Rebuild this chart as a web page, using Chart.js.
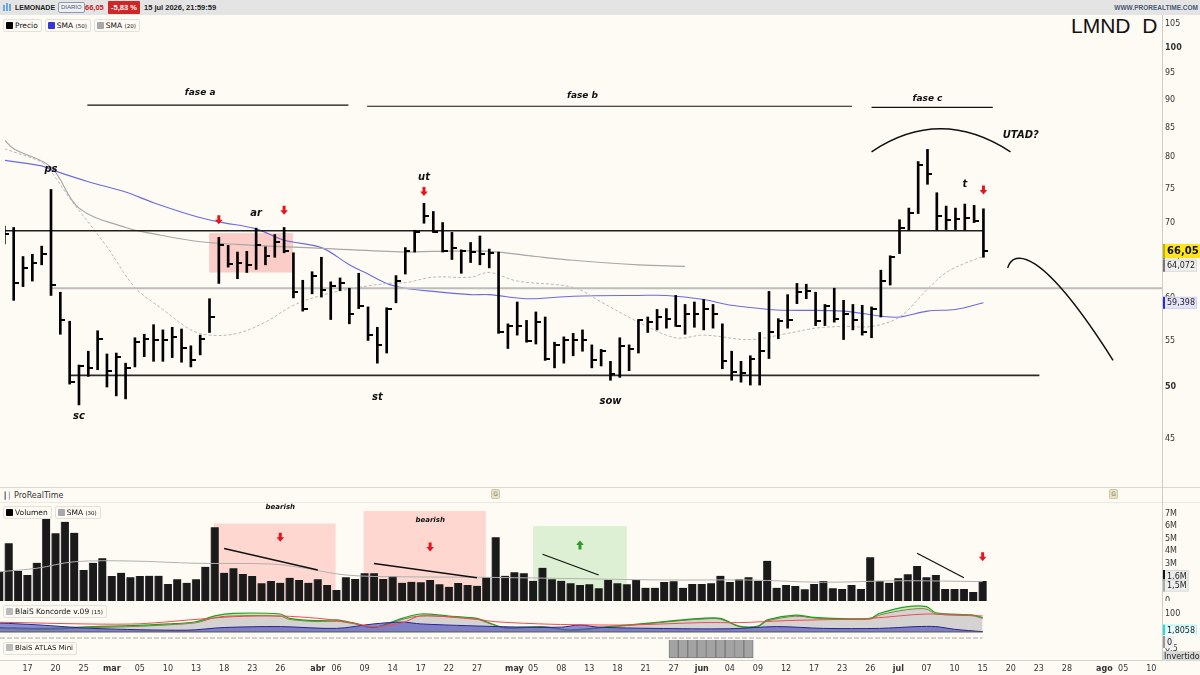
<!DOCTYPE html>
<html><head><meta charset="utf-8">
<script src="https://cdn.jsdelivr.net/npm/chart.js@4/dist/chart.umd.min.js"></script>
<style>
*{box-sizing:border-box}
html,body{margin:0;padding:0;width:1200px;height:675px;overflow:hidden;background:#fefbf5;font-family:"DejaVu Sans",sans-serif;color:#222}
canvas{position:absolute;left:0}
.a{position:absolute;white-space:nowrap}
#hdr{position:absolute;left:0;top:0;width:1200px;height:15px;background:#e4e4e4;font-family:"Liberation Sans",sans-serif;font-size:7px;font-weight:bold;line-height:15px;color:#222}
#hdr span{position:absolute;top:0;white-space:nowrap}
.row{position:absolute;display:flex;gap:3px}
.pill{height:13px;border:1px solid #e4e0da;border-radius:2px;background:#fdf9f3;font-size:7.5px;line-height:11px;padding:0 3px 0 2px;white-space:nowrap;color:#111}
.sq{display:inline-block;width:7px;height:7px;margin-right:2px;vertical-align:-1px;border-radius:1px}
.sm{font-size:5.5px}
.hl{position:absolute;height:1px;background:#dcd8d2}
</style></head><body>
<div id="hdr">
  <span style="left:3px;top:5px;width:2px;height:6px;background:#6aa7e0"></span>
  <span style="left:6px;top:3px;width:2px;height:8px;background:#6aa7e0"></span>
  <span style="left:9px;top:4px;width:2px;height:7px;background:#6aa7e0"></span>
  <span style="left:15px">LEMONADE</span>
  <span style="left:58px;top:2px;height:11px;line-height:9px;border:1px solid #8e9aab;border-radius:2px;font-size:6px;font-weight:normal;padding:0 2px;color:#4a5a70;background:#eef0f3">DIARIO</span>
  <span style="left:85px;color:#c62020;font-size:7.5px">66,05</span>
  <span style="left:108px;top:1px;height:13px;line-height:13px;background:#cf2626;color:#fff;padding:0 3px;border-radius:1px;font-size:7.5px">-5,83 %</span>
  <span style="left:144px;font-size:7.5px">15 jul 2026, 21:59:59</span>
  <span style="left:auto;right:2px;font-size:6.5px;color:#4a5a78">WWW.PROREALTIME.COM</span>
</div>
<div class="row" style="left:3px;top:19px">
  <div class="pill"><span class="sq" style="background:#000"></span>Precio</div>
  <div class="pill"><span class="sq" style="background:#3535d8"></span>SMA <span class="sm">(50)</span></div>
  <div class="pill"><span class="sq" style="background:#a8a8a8"></span>SMA <span class="sm">(20)</span></div>
</div>
<div class="a" style="left:1071px;top:14px;font-family:'Liberation Sans',sans-serif;font-size:21px;color:#111;white-space:pre">LMND  D</div>

<div class="hl" style="left:0;top:487px;width:1200px"></div>
<div class="a" style="left:3px;top:491px;font-size:8px;color:#333"><span style="color:#555;font-size:7px">&#x2503;&#x2502;</span> ProRealTime</div>
<div class="a" style="left:491px;top:489px;width:9px;height:10px;background:#e8e2c4;border:1px solid #cfc7a0;border-radius:2px;font-size:6px;line-height:8px;text-align:center;color:#776">G</div>
<div class="a" style="left:1109px;top:489px;width:9px;height:10px;background:#e8e2c4;border:1px solid #cfc7a0;border-radius:2px;font-size:6px;line-height:8px;text-align:center;color:#776">G</div>
<div class="hl" style="left:0;top:502px;width:1200px;background:#ece8e2"></div>

<div class="a" style="left:1162px;top:15px;width:1px;height:646px;background:#cfcbc5"></div>
<div class="hl" style="left:0;top:660px;width:1200px;background:#d6d2cc"></div>

<script>
// ===================== DATA =====================
// trading days (MM-DD, 2026)
const dates = ['02-11','02-12','02-13','02-17','02-18','02-19','02-20','02-23','02-24','02-25','02-26','02-27',
'03-02','03-03','03-04','03-05','03-06','03-09','03-10','03-11','03-12','03-13','03-16','03-17','03-18','03-19','03-20','03-23','03-24','03-25','03-26','03-27','03-30','03-31',
'04-01','04-02','04-06','04-07','04-08','04-09','04-10','04-13','04-14','04-15','04-16','04-17','04-20','04-21','04-22','04-23','04-24','04-27','04-28','04-29','04-30',
'05-01','05-04','05-05','05-06','05-07','05-08','05-11','05-12','05-13','05-14','05-15','05-18','05-19','05-20','05-21','05-22','05-26','05-27','05-28','05-29',
'06-01','06-02','06-03','06-04','06-05','06-08','06-09','06-10','06-11','06-12','06-15','06-16','06-17','06-18','06-22','06-23','06-24','06-25','06-26','06-29','06-30',
'07-01','07-02','07-06','07-07','07-08','07-09','07-10','07-13','07-14','07-15','07-16','07-17','07-20','07-21','07-22','07-23','07-24','07-27','07-28','07-29','07-30','07-31',
'08-03','08-04','08-05','08-06','08-07','08-10','08-11','08-12'];

const tickDates  = ['02-17','02-20','02-25','03-02','03-05','03-10','03-13','03-18','03-23','03-26','04-01','04-06','04-09','04-14','04-17','04-22','04-27','05-01','05-05','05-08','05-13','05-18','05-21','05-27','06-01','06-04','06-09','06-12','06-17','06-23','06-26','07-01','07-07','07-10','07-15','07-20','07-23','07-28','08-03','08-05','08-10'];
const tickLabels = ['17','20','25','mar','05','10','13','18','23','26','abr','06','09','14','17','22','27','may','05','08','13','18','21','27','jun','04','09','12','17','23','26','jul','07','10','15','20','23','28','ago','05','10'];

const high  = [69.5,69.3,65.3,65.6,66.7,74.9,60.7,57.2,52.3,53.8,56.1,53.5,53.6,52.5,55.3,55.7,56.8,56.2,56.5,56.3,54.4,55.6,59.9,67.9,66.8,65.9,66.0,69.2,66.6,68.3,69.3,65.8,62.2,63.3,65.2,62.0,62.5,61.2,63.1,58.9,56.5,58.8,62.8,66.5,68.9,72.8,71.6,70.0,68.6,66.2,67.2,68.1,66.3,65.9,56.9,59.5,57.3,58.3,57.7,54.8,55.4,55.8,56.2,54.5,54.0,52.7,55.3,54.5,57.4,57.7,58.6,58.7,60.3,59.2,59.5,59.8,59.2,56.9,53.8,52.7,53.3,55.9,60.8,57.5,60.4,61.8,61.7,60.7,59.2,61.2,59.7,59.2,59.1,58.9,63.5,65.4,70.4,72.1,79.3,81.3,74.4,72.4,72.1,72.7,72.5,72.0];
const low   = [67.0,59.7,61.4,62.1,64.2,60.3,55.7,50.3,48.2,51.1,51.8,50.0,49.1,48.8,52.1,53.2,52.7,52.7,53.1,52.6,52.1,53.4,55.9,61.8,63.9,62.4,63.2,63.6,64.2,65.2,65.8,60.0,58.4,60.5,60.1,57.4,60.9,56.9,58.7,55.0,52.5,53.6,59.4,63.0,65.9,69.9,68.6,65.9,64.9,63.1,64.5,64.2,63.8,55.8,54.1,55.6,54.8,54.6,52.8,52.0,52.5,53.3,53.8,52.0,52.2,50.7,51.0,51.7,53.6,55.9,56.2,56.4,56.6,55.7,56.5,56.2,56.4,51.9,50.7,50.5,50.2,50.2,53.0,55.2,56.4,59.3,59.9,56.7,56.7,57.1,55.1,56.2,55.6,55.3,57.7,61.6,65.7,68.9,71.3,75.7,68.9,69.0,69.0,68.9,70.0,65.2];
const close = [68.4,61.9,63.8,64.5,65.7,61.6,57.3,50.5,52.2,52.0,55.2,51.7,53.2,52.0,54.8,55.2,55.0,55.0,55.4,54.1,52.8,55.2,57.7,66.8,64.3,64.5,64.2,66.8,65.4,67.2,66.0,60.7,58.7,62.7,61.0,61.5,61.9,58.1,59.0,55.6,54.5,58.7,62.1,66.0,68.7,71.0,68.7,66.1,66.4,66.1,65.9,65.6,65.8,55.9,56.7,56.7,54.9,57.1,52.9,54.5,55.0,55.1,55.1,52.8,53.8,51.4,54.4,54.0,57.3,57.1,57.7,57.5,56.7,58.1,58.1,58.7,58.1,52.7,51.6,51.5,52.9,53.8,55.9,57.2,57.4,60.7,60.8,57.2,59.0,57.5,58.0,57.3,55.9,58.7,62.1,65.2,69.2,71.4,78.7,77.3,71.0,70.4,70.5,70.7,70.2,66.05];
// volume in millions
const volume = [2.34,4.62,2.42,2.08,3.06,6.8,5.42,6.34,5.46,2.48,3.06,3.42,2.0,2.26,1.9,2.0,2.02,2.02,1.36,1.74,1.46,1.74,2.74,5.9,2.26,2.62,2.16,2.0,1.42,1.6,1.46,1.86,1.68,1.46,1.74,1.28,0.88,1.9,1.76,2.22,2.22,1.76,2.0,1.46,1.54,1.5,1.68,1.34,1.14,1.44,1.28,1.22,1.9,5.1,2.02,2.3,2.22,1.62,2.66,1.74,1.62,1.42,1.28,1.34,1.02,1.68,1.42,1.34,1.68,1.06,1.06,1.52,1.58,1.06,1.36,1.36,1.42,2.02,1.52,1.74,1.9,1.6,3.22,1.06,1.28,1.2,0.94,1.36,1.6,1.02,0.96,1.28,0.96,3.5,1.6,1.46,1.82,2.14,2.8,1.9,2.08,0.96,0.96,0.96,0.72,1.6];

// moving averages (bar index -> value)
const sma50At = [0,4,5,9,13,16,20,23,27,30,34,37,39,41,43,46,50,52,56,61,68,71,75,78,82,84,90,94,96,99,102,105];
const sma50   = [79.5,78.6,78.0,76.1,74.5,72.9,71.1,70.1,69.1,67.5,66.5,64.2,63.0,61.8,61.2,60.8,60.4,60.4,59.9,60.2,60.3,60.3,59.8,59.1,58.6,58.5,58.4,57.8,57.7,58.4,58.6,59.4];
const smaLongAt = [0,1,5,8,13,16,21,27,34,43,46,52,57,61,68,73];
const smaLong   = [82.9,81.4,78.4,72.1,69.3,68.4,67.3,66.8,66.4,65.9,66.0,66.0,65.3,64.8,64.2,64.0];
const sma20At = [0,4,5,7,11,14,17,20,22,25,28,31,34,37,41,43,46,50,52,55,61,64,68,72,75,80,84,87,90,93,96,99,101,103,105];
const sma20   = [81.4,79.2,77.7,73.6,66.6,61.3,58.6,56.2,55.6,55.8,57.1,59.1,60.3,61.1,61.8,61.9,62.6,62.6,63.2,62.1,61.3,59.5,57.1,55.3,55.6,55.1,55.8,56.4,56.6,56.6,57.7,61.1,63.2,64.4,65.3];
const volSmaAt = [0,4,8,14,21,29,32,37,43,51,59,71,80,88,96,105];
const volSma   = [2.34,2.62,3.14,3.2,3.02,2.96,2.7,2.08,1.94,1.9,1.82,1.68,1.68,1.5,1.62,1.55];

// Koncorde (rough reading)
const konAt    = [0,5,10,14,18,21,23,25,30,31,34,36,38,40,43,45,48,51,52,54,58,61,65,69,72,75,77,79,81,82,85,87,89,93,94,97,99,100,104,105];
const konGreen = [25,20,30,35,45,57,90,104,100,76,63,67,48,26,76,100,89,76,57,24,30,11,30,48,63,76,76,33,33,67,94,81,76,76,104,141,141,107,94,80];
const konGray  = [20,15,25,30,40,52,80,90,88,70,58,60,45,24,70,90,85,72,54,22,27,10,27,45,60,72,72,30,30,62,88,78,72,72,95,125,128,100,90,76];
const konBlueAt = [0,4,10,20,24,30,36,40,43,45,50,55,60,62,64,70,78,83,88,94,98,100,102,105];
const konBlue   = [50,40,20,10,25,30,20,45,55,45,35,28,27,39,27,20,18,30,20,20,30,30,15,1.8];
const konRedAt = [0,14,21,25,30,34,37,40,43,45,51,53,59,67,75,79,84,93,99,105];
const konRed   = [54,44,70,85,89,76,57,30,50,89,70,57,43,39,52,52,63,76,100,89];

// ATLAS Mini active days
const atlasDates = ['05-27','05-28','05-29','06-01','06-02','06-03','06-04','06-05','06-08'];

// levels drawn on the price panel
const resistance = 68.85, support = 51.2, midLevel = 61.2;
const priceTicks = [45,50,55,60,65,70,75,80,85,90,95,100,105];
const volTicks = [0,1,2,3,4,5,6,7];

// ===================== LAYOUT CONSTANTS =====================
const X_MIN = 0.067, X_MAX = 124.15, AXIS_W = 38;
const P_MIN = 41.17, P_MAX = 105.72;
const FONT = '"DejaVu Sans", sans-serif';
Chart.defaults.font.family = FONT;

const idx = d => dates.indexOf(d);
const pts = (at, vals) => at.map((x, k) => ({x, y: vals[k]}));
const lastBar = close.length - 1;

function mk(top, h) {
  const cv = document.createElement('canvas');
  cv.width = 1200; cv.height = h; cv.style.top = top + 'px';
  document.body.appendChild(cv); return cv;
}
function yFit(s) { s.width = AXIS_W; s.paddingTop = 0; s.paddingBottom = 0; }
function baseOpts() {
  return {responsive:false, animation:false, events:[], layout:{padding:0},
    plugins:{legend:{display:false}, tooltip:{enabled:false}}};
}
const noGrid = {display:false, drawTicks:false};
const xHidden = () => ({type:'linear', min:X_MIN, max:X_MAX, offset:false, display:false});
function P(c, i, v) { return [c.scales.x.getPixelForValue(i), c.scales.y.getPixelForValue(v)]; }

function valueBox(ctx, x, y, text, bg, marker, opt = {}) {
  const size = opt.size || 8;
  ctx.save();
  ctx.font = (opt.bold ? 'bold ' : '') + size + 'px ' + FONT;
  const w = ctx.measureText(text).width + 6;
  const h = size + 4;
  ctx.fillStyle = bg; ctx.fillRect(x, y - h / 2, w, h);
  if (opt.border) { ctx.strokeStyle = opt.border; ctx.lineWidth = 1; ctx.strokeRect(x + 0.5, y - h / 2 + 0.5, w - 1, h - 1); }
  ctx.fillStyle = marker; ctx.fillRect(x, y - h / 2, 2, h);
  ctx.fillStyle = opt.color || '#222'; ctx.textBaseline = 'middle'; ctx.textAlign = 'left';
  ctx.fillText(text, x + 4, y + 0.5);
  ctx.restore();
}
function arrow(ctx, x, y, color, up) {
  ctx.save(); ctx.fillStyle = color; ctx.beginPath();
  const s = up ? -1 : 1;
  ctx.rect(x - 1.5, y - s * 4.5, 3, s * 4.5);
  ctx.moveTo(x - 3.8, y); ctx.lineTo(x + 3.8, y); ctx.lineTo(x, y + s * 4.5); ctx.closePath();
  ctx.fill(); ctx.restore();
}
function label(ctx, x, y, t, font, color) {
  ctx.save(); ctx.font = font; ctx.fillStyle = color || '#111';
  ctx.textAlign = 'center'; ctx.textBaseline = 'middle'; ctx.fillText(t, x, y); ctx.restore();
}

// close tick marker (to the right of the bar)
const tickImg = document.createElement('canvas');
tickImg.width = 10; tickImg.height = 2;
(() => { const t = tickImg.getContext('2d'); t.fillStyle = '#000'; t.fillRect(5, 0, 5, 2); })();

// ===================== PRICE PANEL =====================
const waveText  = ['ps','sc','ar','st','ut','sow','t','UTAD?'];
const waveAt    = [5, 8, 27, 40, 45, 65, 103, 109];
const waveLevel = [78.0, 47.1, 71.3, 48.9, 76.7, 48.5, 75.7, 83.6];
const phaseNames = ['fase a','fase b','fase c'];
const phaseFrom = [8.9, 38.9, 93.0], phaseTo = [36.9, 90.9, 106.0], phaseLevel = [89.0, 88.8, 88.6];
const phaseTextAt = [21, 62, 99], phaseTextLevel = [91.3, 90.8, 90.2];
const priceArrowsAt = [23, 30, 45, 105], priceArrowsLevel = [70.4, 71.8, 74.6, 74.8];
const priceBox = {from: 21.96, to: 30.95, lo: 63.2, hi: 68.5};
const arcTop = [[93.0, 80.9], [100.4, 84.8], [107.9, 80.9]];
const arcDown = [[107.6, 63.8], [108.2, 66.2], [111.1, 66.8], [118.9, 52.8]];

const pricePlugin = {
  id: 'pricePlugin',
  beforeDatasetsDraw(c) {
    const ctx = c.ctx;
    const [x0, y0] = P(c, priceBox.from, priceBox.hi), [x1, y1] = P(c, priceBox.to, priceBox.lo);
    ctx.save(); ctx.fillStyle = 'rgba(248,160,155,0.5)'; ctx.fillRect(x0, y0, x1 - x0, y1 - y0); ctx.restore();
  },
  afterDatasetsDraw(c) {
    const ctx = c.ctx;
    waveText.forEach((t, k) => { const [x, y] = P(c, waveAt[k], waveLevel[k]); label(ctx, x, y, t, 'italic bold 10px ' + FONT); });
    phaseNames.forEach((t, k) => { const [x, y] = P(c, phaseTextAt[k], phaseTextLevel[k]); label(ctx, x, y, t, 'italic bold 9px ' + FONT); });
    priceArrowsAt.forEach((a, k) => { const [x, y] = P(c, a, priceArrowsLevel[k]); arrow(ctx, x, y, '#e8141c', false); });
    ctx.save(); ctx.strokeStyle = '#111'; ctx.lineWidth = 1.5;
    const a0 = P(c, ...arcTop[0]), ap = P(c, ...arcTop[1]), a2 = P(c, ...arcTop[2]);
    ctx.beginPath(); ctx.moveTo(a0[0], a0[1]);
    ctx.quadraticCurveTo(2 * ap[0] - (a0[0] + a2[0]) / 2, 2 * ap[1] - (a0[1] + a2[1]) / 2, a2[0], a2[1]); ctx.stroke();
    const b = arcDown.map(p => P(c, ...p));
    ctx.beginPath(); ctx.moveTo(b[0][0], b[0][1]); ctx.bezierCurveTo(b[1][0], b[1][1], b[2][0], b[2][1], b[3][0], b[3][1]); ctx.stroke();
    ctx.restore();
  },
  afterDraw(c) {
    const ctx = c.ctx, y = c.scales.y, x = c.chartArea.right + 1;
    valueBox(ctx, x, y.getPixelForValue(65.388), '65,388', '#ececec', '#888');
    valueBox(ctx, x, y.getPixelForValue(64.072), '64,072', '#efefef', '#777', {border: '#dcdcdc'});
    valueBox(ctx, x, y.getPixelForValue(59.398), '59,398', '#e4e4fa', '#2a2ae0', {border: '#d0d0f0'});
    valueBox(ctx, x, y.getPixelForValue(close[lastBar]), '66,05', '#ffe61a', '#c9ad00', {bold: true, size: 10, color: '#111'});
  }
};

new Chart(mk(16, 471), {
  type: 'bar',
  data: {datasets: [
    {type:'line', data: pts(smaLongAt, smaLong), borderColor:'#a7a7a7', borderWidth:1.2, pointRadius:0, tension:0.35, order:6},
    {type:'line', data: pts(sma20At, sma20), borderColor:'#b9b9b9', borderWidth:1, borderDash:[3,2], pointRadius:0, tension:0.35, order:6},
    {type:'line', data: pts(sma50At, sma50), borderColor:'rgba(70,70,225,0.8)', borderWidth:1.1, pointRadius:0, tension:0.35, order:6},
    {type:'line', data: [{x:5, y:midLevel}, {x:X_MAX, y:midLevel}], borderColor:'#bdbdbd', borderWidth:2, pointRadius:0, order:5},
    {type:'line', data: [{x:X_MIN, y:resistance}, {x:lastBar, y:resistance}], borderColor:'#1e1e1e', borderWidth:1.5, pointRadius:0, order:4},
    {type:'line', data: [{x:7, y:support}, {x:111, y:support}], borderColor:'#2a2a2a', borderWidth:1.8, pointRadius:0, order:4},
    ...phaseNames.map((n, k) => ({type:'line', data: [{x:phaseFrom[k], y:phaseLevel[k]}, {x:phaseTo[k], y:phaseLevel[k]}], borderColor:'#111', borderWidth:1.2, pointRadius:0, order:4})),
    {type:'bar', data: high.map((h, i) => ({x:i, y:[low[i], h]})), backgroundColor:'#000', barThickness:2, order:2},
    {type:'line', data: close.map((v, i) => ({x:i, y:v})), showLine:false, pointStyle:tickImg, pointRadius:3, order:1}
  ]},
  options: Object.assign(baseOpts(), {
    scales: {
      x: xHidden(),
      y: {type:'logarithmic', position:'right', min:P_MIN, max:P_MAX,
        grid:noGrid, border:{display:false}, afterFit:yFit,
        afterBuildTicks(s) { s.ticks = priceTicks.map(v => ({value:v})); },
        ticks:{padding:3, color:'#333', callback: v => String(v),
          font: ctx => ({family:FONT, size:8, weight: (ctx.tick && (ctx.tick.value === 100 || ctx.tick.value === 50)) ? 'bold' : 'normal'})}}
    }
  }),
  plugins: [pricePlugin]
});

// ===================== VOLUME PANEL =====================
const volBoxes = [
  {from: 22.9, to: 35.9, top: 6.2, color: 'rgba(255,170,165,0.45)'},
  {from: 38.9, to: 51.96, top: 7.2, color: 'rgba(255,170,165,0.45)'},
  {from: 57.0, to: 67.0, top: 6.0, color: 'rgba(175,225,160,0.4)'}
];
const volTextAt = [30, 46], volTextLevel = [7.5, 6.5];
const volArrowsAt = [30, 46, 62, 105], volArrowsLevel = [5.1, 4.32, 4.48, 3.54], volArrowsUp = [false, false, true, false];
const volLines = [[24, 4.2, 34, 2.48], [40, 3.0, 51, 1.86], [58, 3.74, 64, 2.08], [98, 3.82, 103, 1.86]];

const volPlugin = {
  id: 'volPlugin',
  beforeDatasetsDraw(c) {
    const ctx = c.ctx; ctx.save();
    volBoxes.forEach(b => { const [x0, y0] = P(c, b.from, b.top), [x1] = P(c, b.to, 0); ctx.fillStyle = b.color; ctx.fillRect(x0, y0, x1 - x0, c.chartArea.bottom - y0); });
    ctx.restore();
  },
  afterDatasetsDraw(c) {
    const ctx = c.ctx;
    volTextAt.forEach((a, k) => { const [x, y] = P(c, a, volTextLevel[k]); label(ctx, x, y, 'bearish', 'italic bold 7px ' + FONT); });
    volArrowsAt.forEach((a, k) => { const [x, y] = P(c, a, volArrowsLevel[k]); arrow(ctx, x, y, volArrowsUp[k] ? '#2c9a2c' : '#e8141c', volArrowsUp[k]); });
  },
  afterDraw(c) {
    const ctx = c.ctx, y = c.scales.y, x = c.chartArea.right + 1;
    valueBox(ctx, x, y.getPixelForValue(1.6) - 5, '1,6M', '#ececec', '#111', {border:'#d8d8d8'});
    valueBox(ctx, x, y.getPixelForValue(volSma[volSma.length - 1]) + 4, '1,5M', '#eeeeee', '#aaa', {border:'#dcdcdc'});
  }
};

new Chart(mk(490, 111), {
  type: 'bar',
  data: {datasets: [
    ...volLines.map(l => ({type:'line', data:[{x:l[0], y:l[1]}, {x:l[2], y:l[3]}], borderColor:'#111', borderWidth:1.3, pointRadius:0, order:0})),
    {type:'line', data: pts(volSmaAt, volSma), borderColor:'#b0b0b0', borderWidth:1, pointRadius:0, tension:0.35, order:1},
    {type:'bar', data: volume.map((v, i) => ({x:i, y:v})), backgroundColor:'#1a1a1a', borderColor:'#4a4a4a', borderWidth:{left:1, right:0, top:0, bottom:0}, barThickness:8, order:2}
  ]},
  options: Object.assign(baseOpts(), {
    layout: {padding: {top: 13}},
    scales: {
      x: xHidden(),
      y: {type:'linear', position:'right', min:0, max:7.84, grid:noGrid, border:{display:false}, afterFit:yFit,
        afterBuildTicks(s) { s.ticks = volTicks.map(v => ({value:v})); },
        ticks:{padding:3, color:'#333', font:{size:8}, callback: v => v === 0 ? '0' : v + 'M'}}
    }
  }),
  plugins: [volPlugin]
});

// ===================== KONCORDE PANEL =====================
const konPlugin = {
  id: 'konPlugin',
  afterDraw(c) {
    valueBox(c.ctx, c.chartArea.right + 1, c.scales.y.getPixelForValue(konBlue[konBlue.length - 1]) - 1, '1,8058', '#e6fdfd', '#19e0e8', {border:'#aef0f0'});
  }
};
new Chart(mk(602, 33), {
  type: 'line',
  data: {datasets: [
    {data: pts(konAt, konGray), borderColor:'#8a5a40', borderWidth:1, backgroundColor:'rgba(185,185,185,0.6)', fill:'origin', pointRadius:0, tension:0.3, order:4},
    {data: pts(konAt, konGreen), borderColor:'#22a022', borderWidth:1.2, backgroundColor:'rgba(140,225,120,0.55)', fill:'-1', pointRadius:0, tension:0.3, order:3},
    {data: pts(konBlueAt, konBlue), borderColor:'#25258f', borderWidth:1, backgroundColor:'rgba(80,80,190,0.65)', fill:'origin', pointRadius:0, tension:0.3, order:2},
    {data: pts(konRedAt, konRed), borderColor:'#f24a4a', borderWidth:1, fill:false, pointRadius:0, tension:0.3, order:1},
    {data: [{x:X_MIN, y:0}, {x:lastBar, y:0}], borderColor:'#555', borderWidth:1, pointRadius:0, order:0}
  ]},
  options: Object.assign(baseOpts(), {
    scales: {
      x: xHidden(),
      y: {type:'linear', position:'right', min:-16.7, max:166.7, grid:noGrid, border:{display:false}, afterFit:yFit,
        afterBuildTicks(s) { s.ticks = [{value:100}]; },
        ticks:{padding:3, color:'#333', font:{size:8}}}
    }
  }),
  plugins: [konPlugin]
});

// ===================== ATLAS PANEL + DATE AXIS =====================
const atlasPlugin = {
  id: 'atlasPlugin',
  afterDraw(c) {
    const ctx = c.ctx, x = c.chartArea.right + 1;
    valueBox(ctx, x, c.scales.y.getPixelForValue(0) + 2, '0', '#eeeeee', '#999');
    ctx.save(); ctx.fillStyle = '#d9d9d9'; ctx.fillRect(x, 16, 37, 10);
    ctx.font = '8px ' + FONT; ctx.fillStyle = '#222'; ctx.textBaseline = 'middle'; ctx.fillText('Invertido', x + 1, 21.5); ctx.restore();
  }
};
const isMonth = t => isNaN(Number(t));
new Chart(mk(635, 40), {
  type: 'bar',
  data: {datasets: [
    {type:'line', data:[{x:X_MIN, y:-0.11}, {x:lastBar, y:-0.11}], borderColor:'#a8a8a8', borderWidth:1, borderDash:[5,2], pointRadius:0, order:0},
    {type:'bar', data: atlasDates.map(d => ({x: idx(d), y: 1})), backgroundColor:'#a3a3a3', borderColor:'#7d7d7d', borderWidth:1, barThickness:9.3, order:1}
  ]},
  options: Object.assign(baseOpts(), {
    scales: {
      x: {type:'linear', min:X_MIN, max:X_MAX, offset:false, grid:noGrid, border:{display:false},
        afterFit(s) { s.height = 15; },
        afterBuildTicks(s) { s.ticks = tickDates.map(d => ({value: idx(d)})); },
        ticks:{autoSkip:false, maxRotation:0, padding:4, color:'#333',
          callback: (v, k) => tickLabels[k],
          font: ctx => ({family:FONT, size:8, weight: isMonth(tickLabels[ctx.index]) ? 'bold' : 'normal'})}},
      y: {type:'linear', position:'right', reverse:true, min:-0.278, max:1.111, grid:noGrid, border:{display:false}, afterFit:yFit,
        afterBuildTicks(s) { s.ticks = [{value:0.5}]; },
        ticks:{padding:3, color:'#333', font:{size:8}, callback: v => String(v)}}
    }
  }),
  plugins: [atlasPlugin]
});
</script>

<div class="row" style="left:3px;top:506px">
  <div class="pill"><span class="sq" style="background:#000"></span>Volumen</div>
  <div class="pill"><span class="sq" style="background:#a8a8a8"></span>SMA <span class="sm">(30)</span></div>
</div>
<div class="row" style="left:3px;top:605px">
  <div class="pill"><span class="sq" style="background:#bbb"></span>BlaiS Koncorde v.09 <span class="sm">(15)</span></div>
</div>
<div class="row" style="left:3px;top:642px">
  <div class="pill" style="font-size:7px"><span class="sq" style="background:#bbb"></span>BlaiS ATLAS Mini</div>
</div>
</body></html>
